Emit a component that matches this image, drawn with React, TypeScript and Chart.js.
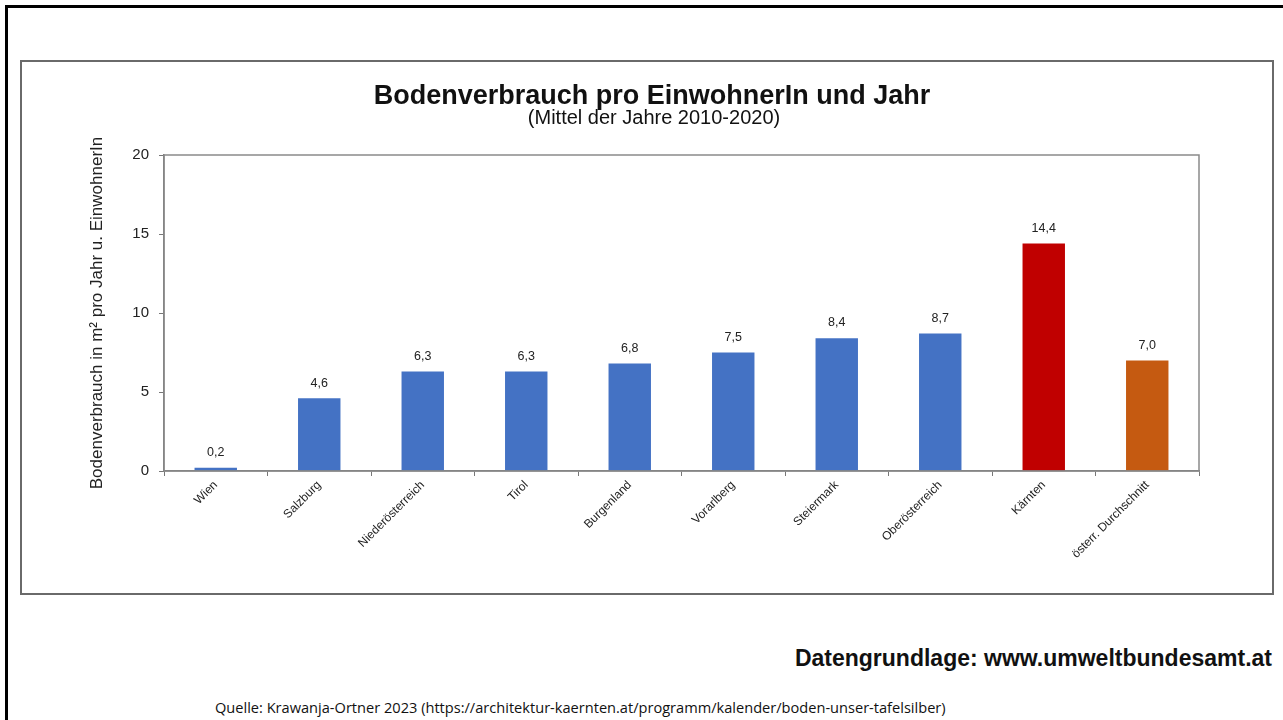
import React, { useEffect, useRef } from "react";
import { Chart, registerables } from "chart.js";

Chart.register(...registerables);

const categories = [
  "Wien",
  "Salzburg",
  "Niederösterreich",
  "Tirol",
  "Burgenland",
  "Vorarlberg",
  "Steiermark",
  "Oberösterreich",
  "Kärnten",
  "österr. Durchschnitt",
];
const values = [0.2, 4.6, 6.3, 6.3, 6.8, 7.5, 8.4, 8.7, 14.4, 7.0];
const barColors = [
  "#4472C4", "#4472C4", "#4472C4", "#4472C4", "#4472C4",
  "#4472C4", "#4472C4", "#4472C4", "#C00000", "#C55A11",
];
const yTicks = [0, 5, 10, 15, 20];

const titleText = "Bodenverbrauch pro EinwohnerIn und Jahr";
const subtitleText = "(Mittel der Jahre 2010-2020)";
const yTitle = "Bodenverbrauch in m² pro Jahr u. EinwohnerIn";
const sourceText = "Datengrundlage: www.umweltbundesamt.at";
const quelleText =
  "Quelle: Krawanja-Ortner 2023 (https://architektur-kaernten.at/programm/kalender/boden-unser-tafelsilber)";

const FONT = "'Liberation Sans', Arial, Helvetica, sans-serif";

const framePlugin = {
  id: "frameAndLabels",
  afterDatasetsDraw(chart: any) {
    const { ctx, chartArea } = chart;
    ctx.save();
    ctx.strokeStyle = "#8a8a8a";
    ctx.lineWidth = 1.5;
    ctx.strokeRect(chartArea.left, chartArea.top, chartArea.right - chartArea.left, chartArea.bottom - chartArea.top);
    const meta = chart.getDatasetMeta(0);
    ctx.fillStyle = "#222";
    ctx.font = "12.5px " + FONT;
    ctx.textAlign = "center";
    ctx.textBaseline = "bottom";
    meta.data.forEach((bar: any, i: number) => {
      const v = values[i];
      ctx.fillText(v.toFixed(1).replace(".", ","), bar.x, bar.y - 9);
    });
    ctx.restore();
  },
};

function BarChart() {
  const ref = useRef<HTMLCanvasElement | null>(null);
  useEffect(() => {
    if (!ref.current) return;
    Chart.defaults.font.family = FONT;
    const chart = new Chart(ref.current, {
      type: "bar",
      data: {
        labels: categories,
        datasets: [
          {
            data: values,
            backgroundColor: barColors,
            borderWidth: 0,
            barPercentage: 0.41,
            categoryPercentage: 1,
          },
        ],
      },
      options: {
        animation: false,
        responsive: false,
        maintainAspectRatio: false,
        layout: { padding: { left: 62, right: 71, top: 93, bottom: 0 } },
        plugins: {
          legend: { display: false },
          tooltip: { enabled: false },
          title: { display: false },
        },
        scales: {
          x: {
            grid: {
              display: true,
              drawOnChartArea: false,
              offset: true,
              tickLength: 5,
              color: "#777",
            },
            border: { display: true, color: "#777", width: 1.5 },
            ticks: {
              color: "#222",
              font: { size: 12, family: FONT },
              minRotation: 45,
              maxRotation: 45,
              autoSkip: false,
              padding: 2,
            },
            afterFit(scale: any) {
              scale.height = 120;
            },
          },
          y: {
            min: 0,
            max: 20,
            afterBuildTicks(scale: any) {
              scale.ticks = yTicks.map((v) => ({ value: v }));
            },
            grid: {
              display: true,
              drawOnChartArea: false,
              tickLength: 5,
              color: "#777",
            },
            border: { display: true, color: "#777", width: 1.5 },
            ticks: {
              color: "#222",
              font: { size: 15, family: FONT },
              padding: 10,
            },
            title: {
              display: true,
              text: yTitle,
              color: "#222",
              font: { size: 17, family: FONT },
              padding: { top: 3, bottom: 4 },
            },
            afterFit(scale: any) {
              scale.width = 80;
            },
          },
        },
      },
      plugins: [framePlugin],
    });
    return () => chart.destroy();
  }, []);
  return <canvas ref={ref} width={1248} height={529} style={{ display: "block", width: 1248, height: 529 }} />;
}

export default function App() {
  return (
    <div
      style={{
        position: "fixed",
        left: 0,
        top: 0,
        width: 1283,
        height: 720,
        background: "#fff",
        overflow: "hidden",
        fontFamily: FONT,
      }}
    >
      <div
        style={{
          position: "absolute",
          left: 5,
          top: 5,
          width: 1300,
          height: 800,
          border: "3px solid #000",
        }}
      />
      <div
        style={{
          position: "absolute",
          left: 20,
          top: 60,
          width: 1250,
          height: 531,
          border: "2px solid #6a6a6a",
          background: "#fff",
        }}
      >
        <BarChart />
      </div>
      <div
        style={{
          position: "absolute",
          left: 0,
          width: 1304,
          top: 80,
          textAlign: "center",
          fontSize: 27,
          fontWeight: "bold",
          lineHeight: "30px",
          color: "#111",
          whiteSpace: "nowrap",
        }}
      >
        {titleText}
      </div>
      <div
        style={{
          position: "absolute",
          left: 0,
          width: 1308,
          top: 106,
          textAlign: "center",
          fontSize: 20,
          lineHeight: "22px",
          color: "#111",
          whiteSpace: "nowrap",
        }}
      >
        {subtitleText}
      </div>
      <div
        style={{
          position: "absolute",
          right: 11,
          top: 644,
          fontSize: 23,
          fontWeight: "bold",
          color: "#111",
          whiteSpace: "nowrap",
          lineHeight: "28px",
          fontFamily: FONT,
        }}
      >
        {sourceText}
      </div>
      <div
        style={{
          position: "absolute",
          left: 215,
          top: 698,
          fontSize: 14.6,
          fontFamily: "'Open Sans', sans-serif",
          color: "#111",
          whiteSpace: "nowrap",
          lineHeight: "18px",
        }}
      >
        {quelleText}
      </div>
    </div>
  );
}
